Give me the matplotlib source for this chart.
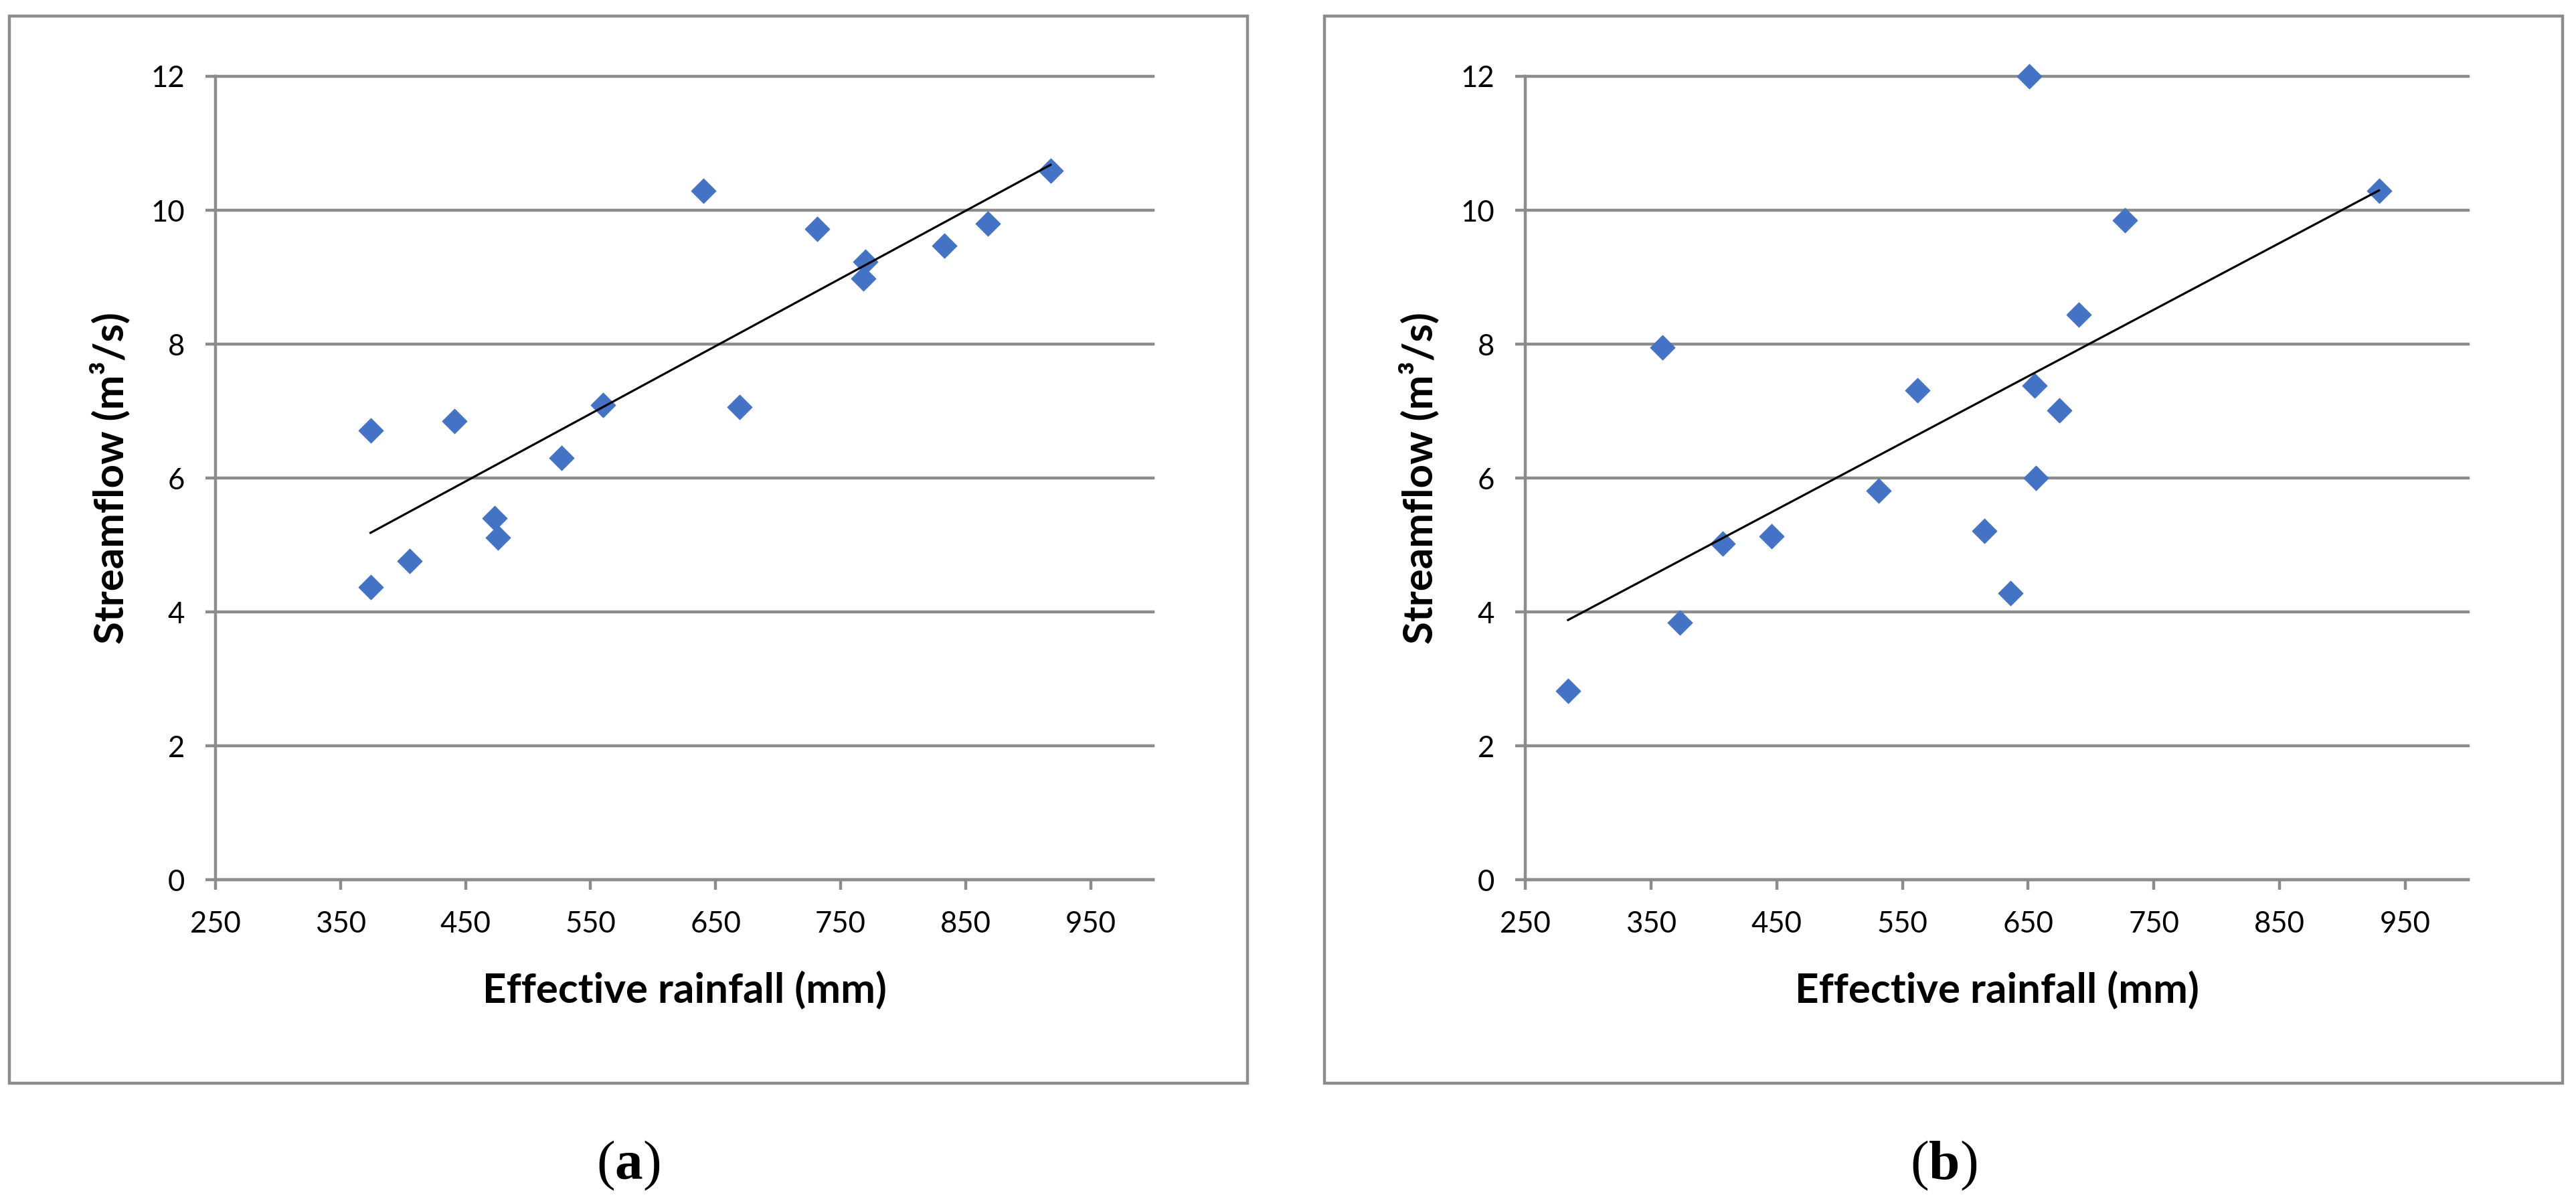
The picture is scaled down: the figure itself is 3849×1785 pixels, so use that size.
import numpy as np
import matplotlib
matplotlib.use("Agg")
import matplotlib.pyplot as plt
from matplotlib.patches import Rectangle

# data
rain_a = [374, 374, 405, 441, 473, 476, 527, 560, 640, 669, 731, 770, 768, 833, 868, 918]
flow_a = [6.71, 4.37, 4.76, 6.85, 5.40, 5.11, 6.30, 7.09, 10.29, 7.06, 9.72, 9.23, 8.98, 9.47, 9.80, 10.59]

rain_b = [284, 359, 373, 407, 446, 531, 562, 615, 636, 651, 655, 656, 675, 690, 727, 929]
flow_b = [2.82, 7.95, 3.84, 5.02, 5.13, 5.81, 7.31, 5.21, 4.28, 12.0, 7.38, 6.00, 7.01, 8.44, 9.85, 10.29]

x_ticks = [250, 350, 450, 550, 650, 750, 850, 950]
y_ticks = [0, 2, 4, 6, 8, 10, 12]
panel_labels = ["a", "b"]

W, H = 3849, 1785
GRAY = "#8C8C8C"
BLUE = "#4472C4"

plt.rcParams['font.family'] = ['Lato', 'DejaVu Sans']
plt.rcParams['mathtext.fontset'] = 'custom'
plt.rcParams['mathtext.rm'] = 'Liberation Serif'
plt.rcParams['mathtext.bf'] = 'Liberation Serif:bold'

fig = plt.figure(figsize=(W / 100, H / 100), dpi=100)


def px_box(x0, y0, x1, y1):
    # pixel box (top-left origin) -> figure fraction [left, bottom, w, h]
    return [x0 / W, 1 - y1 / H, (x1 - x0) / W, (y1 - y0) / H]


def panel(ax_box, frame_box, xs, ys, tag):
    # outer frame
    fx0, fy0, fx1, fy1 = frame_box
    fig.patches.append(Rectangle((fx0 / W, 1 - fy1 / H), (fx1 - fx0) / W, (fy1 - fy0) / H,
                                 transform=fig.transFigure, fill=False,
                                 edgecolor=GRAY, linewidth=3.2, zorder=0))

    ax = fig.add_axes(px_box(*ax_box))
    ax.scatter(xs, ys, marker="D", s=19 ** 2, color=BLUE, edgecolor=BLUE,
               linewidth=0.5, zorder=3, clip_on=False)

    # linear trend line over the data range
    k, b = np.polyfit(xs, ys, 1)
    xl = np.array([min(xs), max(xs)])
    ax.plot(xl, k * xl + b, color="black", linewidth=2.3, zorder=4)

    ax.set_xlim(250, 1000)
    ax.set_ylim(0, 12)
    ax.set_xticks(x_ticks)
    ax.set_yticks(y_ticks)
    ax.grid(axis="y", color=GRAY, linewidth=3.2)
    for gl in ax.get_ygridlines():
        gl.set_clip_on(False)
    ax.set_axisbelow(True)
    for s in ["top", "right"]:
        ax.spines[s].set_visible(False)
    for s in ["left", "bottom"]:
        ax.spines[s].set_color(GRAY)
        ax.spines[s].set_linewidth(3.2)
    ax.tick_params(axis="both", colors=GRAY, labelcolor="black", labelsize=31.5,
                   length=11, width=3.2, pad=22)

    ax.set_xlabel("Effective rainfall (mm)", fontsize=44.5, fontweight="bold", va="center")
    ax.xaxis.set_label_coords(0.5, -0.137)
    ax.set_ylabel("Streamflow (m³/s)", fontsize=44.5, fontweight="bold", va="center")
    ax.yaxis.set_label_coords(-0.113, 0.5)

    cx = (fx0 + fx1) / 2 / W
    fig.text(cx, 1 - 1741 / H, r"($\mathbf{%s}$)" % tag, fontsize=60,
             family="Liberation Serif", ha="center", va="center")
    return ax


panel((322, 114, 1723, 1314), (14, 24, 1864, 1618), rain_a, flow_a, panel_labels[0])
panel((2279, 114, 3688, 1314), (1979, 24, 3829, 1618), rain_b, flow_b, panel_labels[1])

fig.savefig("out.png", dpi=100, facecolor="white")
